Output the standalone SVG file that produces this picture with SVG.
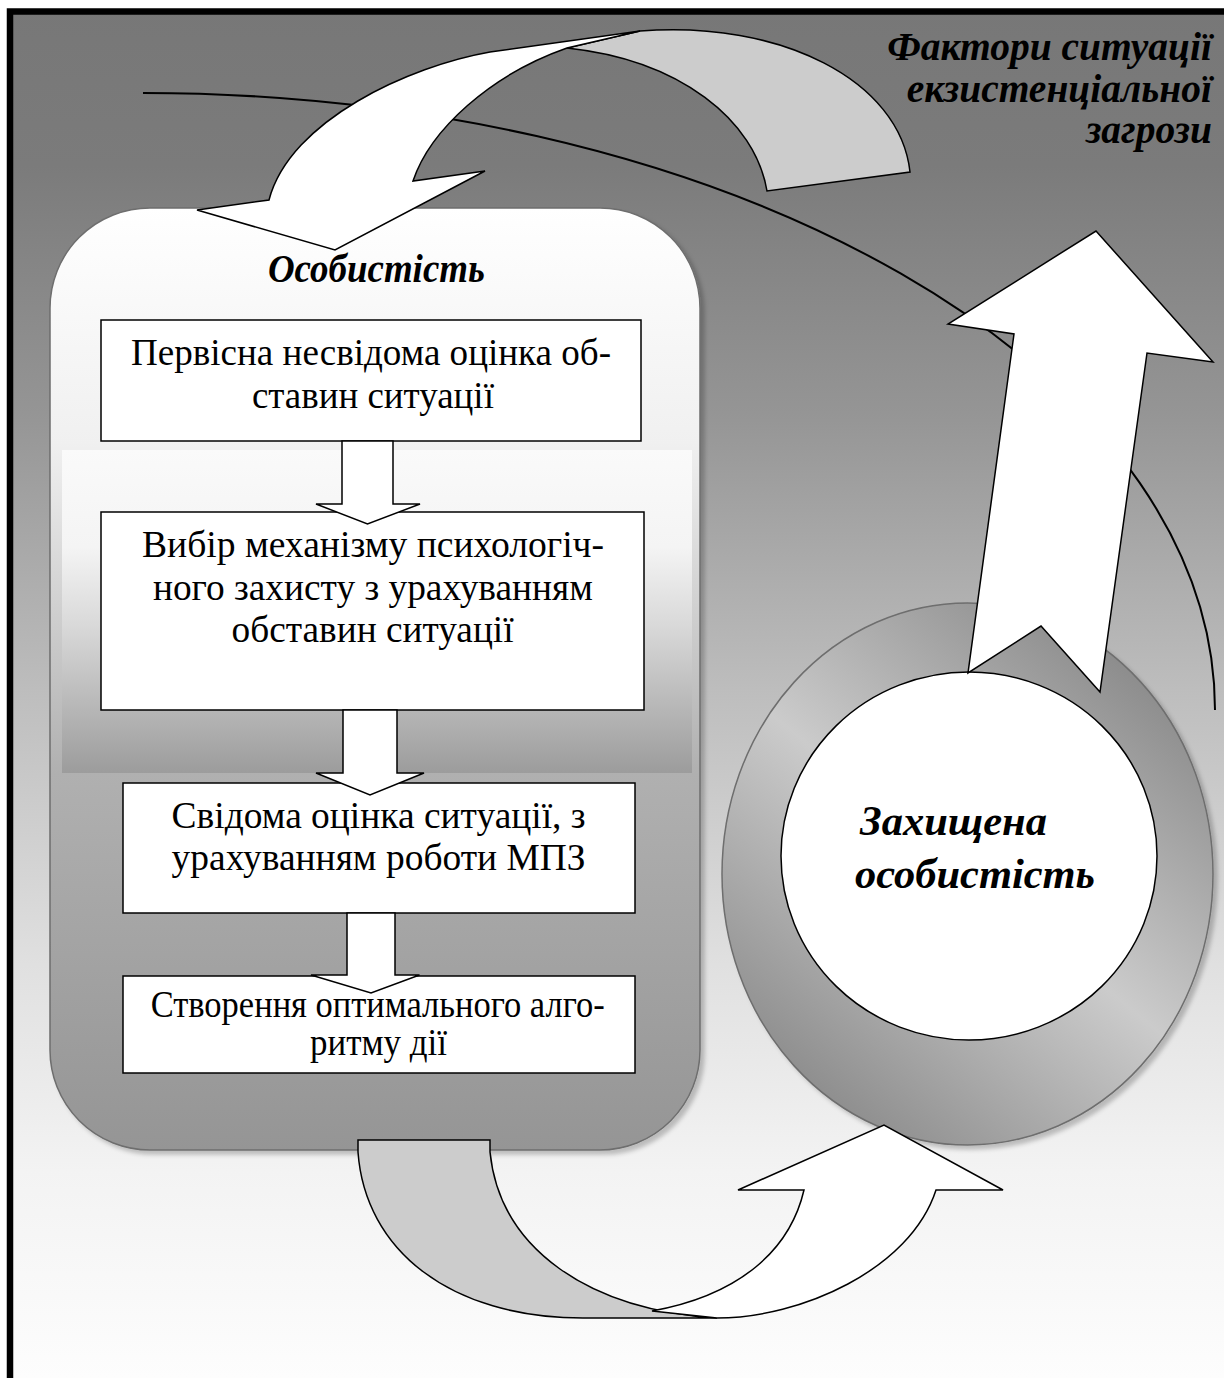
<svg xmlns="http://www.w3.org/2000/svg" width="1224" height="1378" viewBox="0 0 1224 1378">
<defs>
<linearGradient id="bg" gradientUnits="userSpaceOnUse" x1="0" y1="0" x2="0" y2="1378">
<stop offset="0" stop-color="#777777"/>
<stop offset="0.12" stop-color="#7b7b7b"/>
<stop offset="0.3" stop-color="#959595"/>
<stop offset="0.5" stop-color="#bdbdbd"/>
<stop offset="0.7" stop-color="#e0e0e0"/>
<stop offset="0.85" stop-color="#f3f3f3"/>
<stop offset="1" stop-color="#fdfdfd"/>
</linearGradient>
<linearGradient id="nodeG" gradientUnits="userSpaceOnUse" x1="0" y1="208" x2="0" y2="1150">
<stop offset="0" stop-color="#ffffff"/>
<stop offset="0.25" stop-color="#f0f0f0"/>
<stop offset="0.6" stop-color="#b0b0b0"/>
<stop offset="1" stop-color="#959595"/>
</linearGradient>
<linearGradient id="bandG" gradientUnits="userSpaceOnUse" x1="0" y1="450" x2="0" y2="773">
<stop offset="0" stop-color="#fafafa"/>
<stop offset="0.3" stop-color="#f4f4f4"/>
<stop offset="0.55" stop-color="#d8d8d8"/>
<stop offset="1" stop-color="#9c9c9c"/>
</linearGradient>
<linearGradient id="ringG" gradientUnits="userSpaceOnUse" x1="1160" y1="640" x2="775" y2="1110">
<stop offset="0" stop-color="#838383"/>
<stop offset="0.5" stop-color="#cbcbcb"/>
<stop offset="1" stop-color="#858585"/>
</linearGradient>
<filter id="sh" x="-5%" y="-5%" width="115%" height="115%">
<feDropShadow dx="4" dy="4" stdDeviation="2" flood-color="#000" flood-opacity="0.22"/>
</filter>
<style>
.ar{fill:#ffffff;stroke:#000;stroke-width:1.5;stroke-linejoin:miter}
.gb{fill:#cccccc;stroke:#000;stroke-width:1.5}
.bx{fill:#ffffff;stroke:#000;stroke-width:1.5}
.t{font-family:"Liberation Serif","Times New Roman",serif;font-size:38px;fill:#000;text-anchor:middle}
.bi{font-family:"Liberation Serif","Times New Roman",serif;font-weight:bold;font-style:italic;fill:#000}
</style>
</defs>
<rect x="0" y="0" width="1224" height="1378" fill="#ffffff"/>
<rect x="10" y="11.5" width="1240" height="1400" fill="url(#bg)" stroke="#000" stroke-width="6.5"/>

<g id="connectors">
<path id="threat-curve" d="M143,93 A1072,617 0 0 1 1215,710" fill="none" stroke="#000" stroke-width="2"/>
</g>

<g id="node-protected">
<ellipse cx="967.5" cy="874" rx="245.5" ry="271" fill="url(#ringG)" stroke="#6e6e6e" stroke-width="1.5" filter="url(#sh)"/>
<ellipse cx="969" cy="856" rx="188" ry="184" fill="#ffffff" stroke="#000" stroke-width="1.5"/>
<text class="bi" font-size="42" x="860" y="835" textLength="187" lengthAdjust="spacingAndGlyphs">Захищена</text>
<text class="bi" font-size="42" x="855" y="888" textLength="240" lengthAdjust="spacingAndGlyphs">особистість</text>
</g>

<g id="arrow-up">
<polygon class="ar" points="1096,231 1213,362 1147,353 1100,692 1041,626 968,673 1014,334 948,324"/>
</g>

<g id="node-personality">
<rect x="50" y="208" width="650" height="942" rx="100" ry="100" fill="url(#nodeG)" stroke="#6e6e6e" stroke-width="1.5" filter="url(#sh)"/>
<rect x="62" y="450" width="630" height="323" fill="url(#bandG)"/>
<text class="bi" font-size="39" x="376.4" y="282" text-anchor="middle" textLength="217" lengthAdjust="spacingAndGlyphs">Особистість</text>
</g>

<g id="bottom-arrow">
<path class="gb" d="M358,1140 L358,1152 C365,1250 450,1318 583,1318 L717,1318 C590,1310 500,1250 490,1152 L490,1140 Z"/>
<path class="ar" d="M717,1318 C800,1318 910,1270 936,1190 L1003,1190 L884,1125 L738,1190 L804,1190 C790,1250 740,1295 652,1311 Z"/>
</g>

<g id="node-box1">
<rect class="bx" x="101" y="320" width="540" height="121"/>
<text class="t" x="371" y="365" textLength="480" lengthAdjust="spacingAndGlyphs">Первісна несвідома оцінка об-</text>
<text class="t" x="372.9" y="408" textLength="242" lengthAdjust="spacingAndGlyphs">ставин ситуації</text>
</g>
<g id="node-box2">
<rect class="bx" x="101" y="512" width="543" height="198"/>
<text class="t" x="373" y="557" textLength="462" lengthAdjust="spacingAndGlyphs">Вибір механізму психологіч-</text>
<text class="t" x="372.9" y="600" textLength="440" lengthAdjust="spacingAndGlyphs">ного захисту з урахуванням</text>
<text class="t" x="372.6" y="642" textLength="282" lengthAdjust="spacingAndGlyphs">обставин ситуації</text>
</g>
<g id="node-box3">
<rect class="bx" x="123" y="783" width="512" height="130"/>
<text class="t" x="378.6" y="828" textLength="414" lengthAdjust="spacingAndGlyphs">Свідома оцінка ситуації, з</text>
<text class="t" x="378.6" y="870" textLength="414" lengthAdjust="spacingAndGlyphs">урахуванням роботи МПЗ</text>
</g>
<g id="node-box4">
<rect class="bx" x="123" y="976" width="512" height="97"/>
<text class="t" font-size="34" x="377.7" y="1017" textLength="454" lengthAdjust="spacingAndGlyphs">Створення оптимального алго-</text>
<text class="t" font-size="34" x="378.5" y="1055" textLength="137" lengthAdjust="spacingAndGlyphs">ритму дії</text>
</g>

<g id="flow-arrows">
<polygon class="ar" points="342,441 393,441 393,504 420,504 367.5,524 316,504 342,504"/>
<polygon class="ar" points="343,710 397,710 397,773 424,773 370,795 316,773 343,773"/>
<polygon class="ar" points="347,913 395,913 395,975 419.5,975 371,993 311,975 347,975"/>
</g>

<g id="top-arrow">
<path class="gb" d="M567,48 L640,31 C780,20 900,80 910,172 L767,191 C755,120 680,60 567,48 Z"/>
<path class="ar" d="M640,31 L490,52 C410,66 290,120 269,200 L197,210 L335,250 L485,171 L413,181 C430,130 490,75 567,48 Z"/>
</g>

<g id="label-factors">
<text class="bi" font-size="39.5" x="1212" y="60" text-anchor="end">Фактори ситуації</text>
<text class="bi" font-size="39.5" x="1212" y="102" text-anchor="end">екзистенціальної</text>
<text class="bi" font-size="39.5" x="1212" y="143" text-anchor="end">загрози</text>
</g>
</svg>
